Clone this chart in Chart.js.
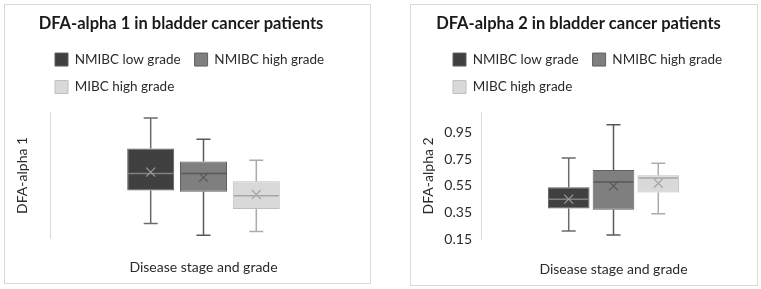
<!DOCTYPE html>
<html>
<head>
<meta charset="utf-8">
<script src="https://cdn.jsdelivr.net/npm/chart.js@4.4.0/dist/chart.umd.min.js"></script>
<style>
  body { margin: 0; background: #fff; width: 761px; height: 289px; position: relative; overflow: hidden; }
  .panel { position: absolute; border: 1px solid #d9d9d9; box-sizing: border-box; background: #fff; }
  #p1 { left: 4px; top: 4px; width: 367px; height: 280px; }
  #p2 { left: 410px; top: 4px; width: 348px; height: 282px; }
  canvas { display: block; }
</style>
</head>
<body>
<div class="panel" id="p1"><canvas id="alpha1" width="365" height="278"></canvas></div>
<div class="panel" id="p2"><canvas id="alpha2" width="346" height="280"></canvas></div>
<script>
const groups = ['NMIBC low grade', 'NMIBC high grade', 'MIBC high grade'];

// DFA-alpha 1 - axis has no labels, values read against the same range as alpha 2
const a1Min  = [0.26, 0.17, 0.20];
const a1Q1   = [0.51, 0.50, 0.37];
const a1Med  = [0.64, 0.64, 0.47];
const a1Q3   = [0.83, 0.73, 0.58];
const a1Max  = [1.06, 0.90, 0.74];
const a1Mean = [0.65, 0.61, 0.48];

// DFA-alpha 2
const a2Min  = [0.21, 0.18, 0.34];
const a2Q1   = [0.38, 0.37, 0.50];
const a2Med  = [0.45, 0.58, 0.61];
const a2Q3   = [0.54, 0.67, 0.63];
const a2Max  = [0.76, 1.01, 0.72];
const a2Mean = [0.45, 0.55, 0.57];
const a2Ticks = [0.15, 0.35, 0.55, 0.75, 0.95];

const fills   = ['#404040', '#7f7f7f', '#d9d9d9'];
const borders = ['#5f5f5f', '#5f5f5f', '#bfbfbf'];
const lines   = ['#6b6b6b', '#595959', '#ababab'];
const medians = ['#808080', '#595959', '#a6a6a6'];
const means   = ['#9a9a9a', '#595959', '#a6a6a6'];

Chart.defaults.font.family = 'Lato';
Chart.defaults.color = '#2b2b2b';

// whiskers, median line and mean cross on top of the floating bars
const boxParts = {
  id: 'boxParts',
  afterDatasetsDraw(chart) {
    const ctx = chart.ctx;
    const y = chart.scales.y;
    const py = v => y.getPixelForValue(v);
    chart.data.datasets.forEach((ds, i) => {
      const bar = chart.getDatasetMeta(i).data[0];
      const x = bar.x, half = bar.width / 2, cap = 7;
      const [q1, q3] = ds.data[0];
      const st = ds.stat;
      ctx.save();
      ctx.lineWidth = 1.5;
      ctx.strokeStyle = lines[i];
      ctx.beginPath();
      ctx.moveTo(x, py(q3)); ctx.lineTo(x, py(st.max));
      ctx.moveTo(x - cap, py(st.max)); ctx.lineTo(x + cap, py(st.max));
      ctx.moveTo(x, py(q1)); ctx.lineTo(x, py(st.min));
      ctx.moveTo(x - cap, py(st.min)); ctx.lineTo(x + cap, py(st.min));
      ctx.stroke();
      ctx.strokeStyle = medians[i];
      ctx.beginPath();
      ctx.moveTo(x - half + 1, py(st.med)); ctx.lineTo(x + half - 1, py(st.med));
      ctx.stroke();
      const m = py(st.mean), s = 4.5;
      ctx.strokeStyle = means[i];
      ctx.lineWidth = 1.2;
      ctx.beginPath();
      ctx.moveTo(x - s, m - s); ctx.lineTo(x + s, m + s);
      ctx.moveTo(x - s, m + s); ctx.lineTo(x + s, m - s);
      ctx.stroke();
      ctx.restore();
    });
  }
};

// excel keeps the legend rows left aligned under each other
const legendShift = {
  id: 'legendShift',
  afterLayout(chart, args, opts) {
    const lg = chart.legend;
    lg.left = opts.x - lg.options.labels.padding;
  }
};

function boxSets(q1, q3, min, med, max, mean) {
  return groups.map((g, i) => ({
    label: g,
    data: [[q1[i], q3[i]]],
    backgroundColor: fills[i],
    borderColor: borders[i],
    borderWidth: 1,
    borderSkipped: false,
    stat: { min: min[i], med: med[i], max: max[i], mean: mean[i] }
  }));
}

function makeChart(id, cfg) {
  return new Chart(id, {
    type: 'bar',
    data: { labels: [''], datasets: cfg.datasets },
    options: {
      responsive: false,
      animation: false,
      barPercentage: cfg.barPct,
      categoryPercentage: cfg.catPct,
      layout: { padding: { left: 0, right: cfg.padRight, top: 0, bottom: 0 } },
      plugins: {
        title: {
          display: true, text: cfg.title, color: '#1a1a1a',
          font: { size: 16.5, weight: 'bold', lineHeight: 1.2 },
          padding: { top: 9, bottom: 5 }
        },
        legend: {
          display: true, position: 'top', align: 'start',
          labels: { boxWidth: 13, boxHeight: 13, padding: 14, font: { size: 13.5 }, color: '#2b2b2b' }
        },
        subtitle: {
          display: true, text: '', weight: 500,
          font: { size: 1, lineHeight: 1 }, padding: { top: 4, bottom: 4 }
        },
        tooltip: { enabled: false },
        legendShift: { x: cfg.legendX }
      },
      scales: {
        x: {
          grid: { display: false, drawTicks: false },
          border: { display: false },
          ticks: { display: false },
          title: { display: true, text: 'Disease stage and grade', font: { size: 14 }, padding: { top: 0, bottom: cfg.xPadBottom } },
          afterFit: s => { s.height = cfg.xHeight; }
        },
        y: {
          min: 0.15, max: 1.1,
          grid: { display: false, drawTicks: false },
          border: { display: true, color: '#d9d9d9', width: 1 },
          ticks: {
            display: cfg.showTicks, padding: 9, font: { size: 14 },
            callback: v => Number(v).toFixed(2)
          },
          afterBuildTicks: s => { s.ticks = a2Ticks.map(v => ({ value: v })); },
          title: { display: true, text: cfg.yTitle, font: { size: 14 }, padding: { top: 9, bottom: 0 } },
          afterFit: s => { s.width = cfg.yWidth; }
        }
      }
    },
    plugins: [boxParts, legendShift]
  });
}

makeChart('alpha1', {
  title: 'DFA-alpha 1 in bladder cancer patients',
  yTitle: 'DFA-alpha 1',
  datasets: boxSets(a1Q1, a1Q3, a1Min, a1Med, a1Max, a1Mean),
  showTicks: false,
  legendX: 50, yWidth: 45, padRight: 13, xHeight: 45, xPadBottom: 7,
  barPct: 0.89, catPct: 0.516
});

makeChart('alpha2', {
  title: 'DFA-alpha 2 in bladder cancer patients',
  yTitle: 'DFA-alpha 2',
  datasets: boxSets(a2Q1, a2Q3, a2Min, a2Med, a2Max, a2Mean),
  showTicks: true,
  legendX: 42, yWidth: 70, padRight: 11, xHeight: 46, xPadBottom: 7,
  barPct: 0.93, catPct: 0.507
});
</script>
</body>
</html>
